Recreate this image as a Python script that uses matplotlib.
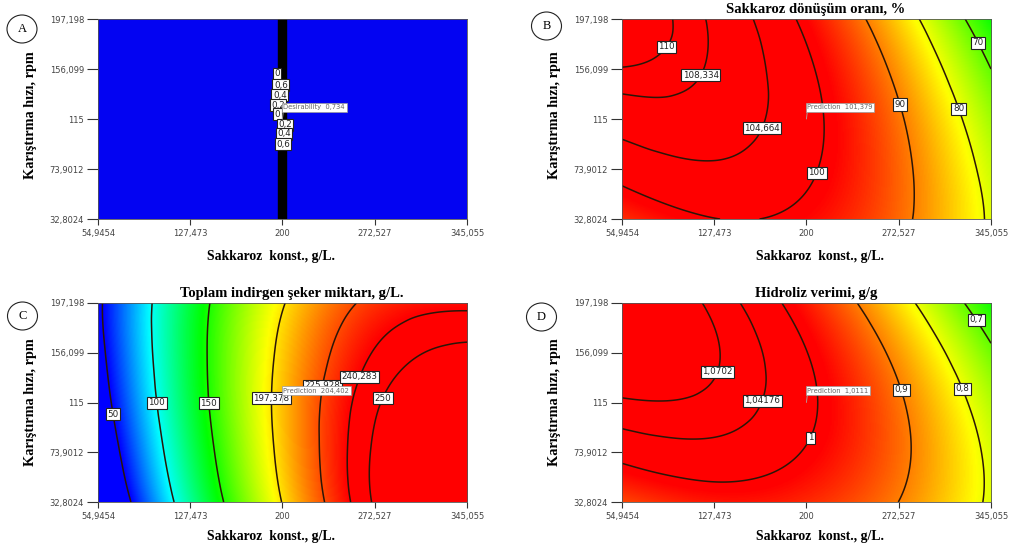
import matplotlib
matplotlib.use('Agg')
import matplotlib.pyplot as plt
import matplotlib.tri as mtri
from matplotlib.colors import LinearSegmentedColormap
from matplotlib.patches import Ellipse
import numpy as np

# axis ticks shared by all four panels
x_ticks = [54.9454, 127.473, 200, 272.527, 345.055]
y_ticks = [32.8024, 73.9012, 115, 156.099, 197.198]
x_ticklabels = ['54,9454', '127,473', '200', '272,527', '345,055']
y_ticklabels = ['32,8024', '73,9012', '115', '156,099', '197,198']

# responses read at the tick grid (rows = rpm from low to high, cols = sucrose)
conversion = [
    [95.8, 99.9, 98.6, 91.6, 79.0],
    [101.8, 104.1, 100.8, 91.9, 77.5],
    [106.4, 106.8, 101.6, 90.8, 74.5],
    [109.9, 107.9, 100.9, 88.2, 70.0],
    [111.6, 107.8, 98.7, 84.1, 64.0],
]
reducing_sugar = [
    [9.3, 117.3, 198.0, 251.3, 277.3],
    [23.8, 127.1, 203.0, 251.6, 272.8],
    [34.7, 133.2, 204.4, 248.2, 264.7],
    [41.8, 135.6, 202.0, 241.1, 252.8],
    [45.3, 134.3, 196.0, 230.3, 237.3],
]
hydrolysis_yield = [
    [0.9405, 0.9754, 0.9617, 0.8996, 0.7889],
    [1.0144, 1.0297, 0.9966, 0.9150, 0.7849],
    [1.0664, 1.0623, 1.0097, 0.9086, 0.7590],
    [1.0968, 1.0732, 1.0011, 0.8805, 0.7115],
    [1.1053, 1.0623, 0.9707, 0.8307, 0.6421],
]

levels_B = [70, 80, 90, 100, 104.664, 108.334, 110]
levels_C = [50, 100, 150, 197.378, 225.928, 240.283, 250]
levels_D = [0.7, 0.8, 0.9, 1.0, 1.04176, 1.0702]

# desirability panel: contours pile up in a narrow band at 200 g/L
desir_band = (196.5, 202.8)
desir_labels = ['0', '0,6', '0,4', '0,2', '0', '0,2', '0,4', '0,6']

optimum = (200, 115)
flag_A = 'Desirability  0,734'
flag_B = 'Prediction  101,379'
flag_C = 'Prediction  204,402'
flag_D = 'Prediction  1,0111'

titles = ['', 'Sakkaroz dönüşüm oranı, %', 'Toplam indirgen şeker miktarı, g/L.', 'Hidroliz verimi, g/g']
xlab = 'Sakkaroz  konst., g/L.'
ylab = 'Karıştırma hızı, rpm'

# label positions (data coords) where each contour gets its boxed value
pos_B = [(332.5, 176.4), (318.6, 123.0), (272.2, 126.5), (205.3, 71.7), (163.4, 108.2), (120.2, 148.9), (91.4, 173.1)]
pos_C = [(62.3, 104.7), (98.4, 114.3), (140.4, 114.3), (190.2, 118.5), (233.0, 128.4), (261.0, 136.3), (278.8, 118.5)]
pos_D = [(335.1, 184.6), (324.8, 127.2), (276.1, 125.9), (203.3, 85.9), (164.8, 116.5), (128.1, 141.3)]
pos_A = [(195.7, 152.0), (198.8, 142.9), (198.0, 134.7), (196.5, 126.5), (195.9, 119.1), (202.0, 110.1), (201.2, 102.7), (200.4, 94.4)]

cmap = LinearSegmentedColormap.from_list('dx', ['#0000ff', '#00ffff', '#00ff00', '#ffff00', '#ff0000'])
SERIF = 'Liberation Serif'
LINE = '#2b1608'
LABEL_FS = 6.3


def surface(values):
    # smooth the tick-grid readings with matplotlib's cubic triangle interpolator
    xc, yc = 200.0, 115.0
    hx, hy = 345.055 - xc, 197.198 - yc
    gx, gy = np.meshgrid(x_ticks, y_ticks)
    tri = mtri.Triangulation(((gx - xc) / hx).ravel(), ((gy - yc) / hy).ravel())
    interp = mtri.CubicTriInterpolator(tri, np.ravel(values), kind='min_E')
    fx = np.linspace(x_ticks[0], x_ticks[-1], 300)
    fy = np.linspace(y_ticks[0], y_ticks[-1], 300)
    XX, YY = np.meshgrid(fx, fy)
    ZZ = interp((XX - xc) / hx, (YY - yc) / hy)
    return XX, YY, np.asarray(ZZ)


def fmt(v):
    return ('%g' % v).replace('.', ',')


def label_box():
    return dict(boxstyle='square,pad=0.18', fc='white', ec='#222', lw=0.8)


def style_axes(ax, col, row):
    ax.set_xlim(x_ticks[0], x_ticks[-1])
    ax.set_ylim(y_ticks[0], y_ticks[-1])
    ax.set_xticks(x_ticks)
    ax.set_xticklabels(x_ticklabels, fontsize=6, color='#444', family='DejaVu Sans')
    ax.set_yticks(y_ticks)
    ax.set_yticklabels(y_ticklabels, fontsize=6, color='#444', family='DejaVu Sans')
    ax.tick_params(axis='y', length=8, width=0.8, color='#333', pad=2)
    ax.tick_params(axis='x', length=4.5, width=0.8, color='#333', pad=3)
    for s in ax.spines.values():
        s.set_linewidth(0.6)
        s.set_color('#555')
    ax.set_xlabel(xlab, fontsize=9.9, fontweight='bold', family=SERIF)
    ax.set_ylabel(ylab, fontsize=10.3, fontweight='bold', family=SERIF)
    ax.xaxis.set_label_coords(0.469 if col == 0 else 0.537, -0.155 if row == 0 else -0.14)
    ax.yaxis.set_label_coords(-0.165, 0.52 if row == 0 else 0.5)


def add_flag(ax, text):
    ax.annotate(text, xy=optimum, xytext=(1, 9), textcoords='offset pixels',
                ha='left', va='bottom', fontsize=4.9, color='#666', family='DejaVu Sans',
                bbox=dict(boxstyle='square,pad=0.22', fc='white', ec='#999', lw=0.5),
                arrowprops=dict(arrowstyle='-', color='#aaa', lw=0.6, shrinkA=0, shrinkB=0, relpos=(0, 0)),
                zorder=8)


def contour_panel(ax, values, levels, positions, vmin, vmax):
    XX, YY, ZZ = surface(values)
    ax.imshow(ZZ, extent=[x_ticks[0], x_ticks[-1], y_ticks[0], y_ticks[-1]], origin='lower',
              aspect='auto', cmap=cmap, vmin=vmin, vmax=vmax, interpolation='bilinear')
    for lev, p in zip(levels, positions):
        cs = ax.contour(XX, YY, ZZ, levels=[lev], colors=LINE, linewidths=1.1)
        txts = ax.clabel(cs, manual=[p], inline=False, fmt={lev: fmt(lev)}, fontsize=LABEL_FS)
        for t in txts:
            t.set_rotation(0)
            t.set_family('DejaVu Sans')
            t.set_color('#222')
            t.set_bbox(label_box())
            t.set_zorder(6)


fig = plt.figure(figsize=(10.11, 5.51), dpi=100)
w, h = 0.365, 0.363
axA = fig.add_axes([0.0969, 0.6025, w, h])
axB = fig.add_axes([0.6152, 0.6025, w, h])
axC = fig.add_axes([0.0969, 0.0889, w, 0.3612])
axD = fig.add_axes([0.6152, 0.0889, w, 0.3612])

for ax, col, row in [(axA, 0, 0), (axB, 1, 0), (axC, 0, 1), (axD, 1, 1)]:
    style_axes(ax, col, row)

# A: desirability
axA.set_facecolor('#0303f2')
axA.axvspan(desir_band[0], desir_band[1], color='black', zorder=2)
for lab, p in zip(desir_labels, pos_A):
    axA.text(p[0], p[1], lab, fontsize=LABEL_FS, color='#222', family='DejaVu Sans', ha='center', va='center',
             bbox=label_box(), zorder=6)
add_flag(axA, flag_A)

contour_panel(axB, conversion, levels_B, pos_B, 28, 99)
add_flag(axB, flag_B)
contour_panel(axC, reducing_sugar, levels_C, pos_C, 50, 240)
add_flag(axC, flag_C)
contour_panel(axD, hydrolysis_yield, levels_D, pos_D, 0.28, 0.99)
add_flag(axD, flag_D)

for ax, t in zip([axA, axB, axC, axD], titles):
    if t:
        ax.set_title(t, fontsize=10.5, fontweight='bold', family=SERIF, x=0.525, pad=4)

# circled panel letters
for letter, cx, cy in [('A', 22, 29), ('B', 546.5, 26), ('C', 22.5, 316), ('D', 541.5, 317)]:
    fx, fy = cx / 1011, 1 - cy / 551
    fig.patches.append(Ellipse((fx, fy), 30 / 1011, 28 / 551, transform=fig.transFigure,
                               fill=False, ec='#222', lw=0.8))
    fig.text(fx, fy, letter, ha='center', va='center', fontsize=9, family=SERIF)

fig.savefig('out.png', dpi=100, facecolor='white')
